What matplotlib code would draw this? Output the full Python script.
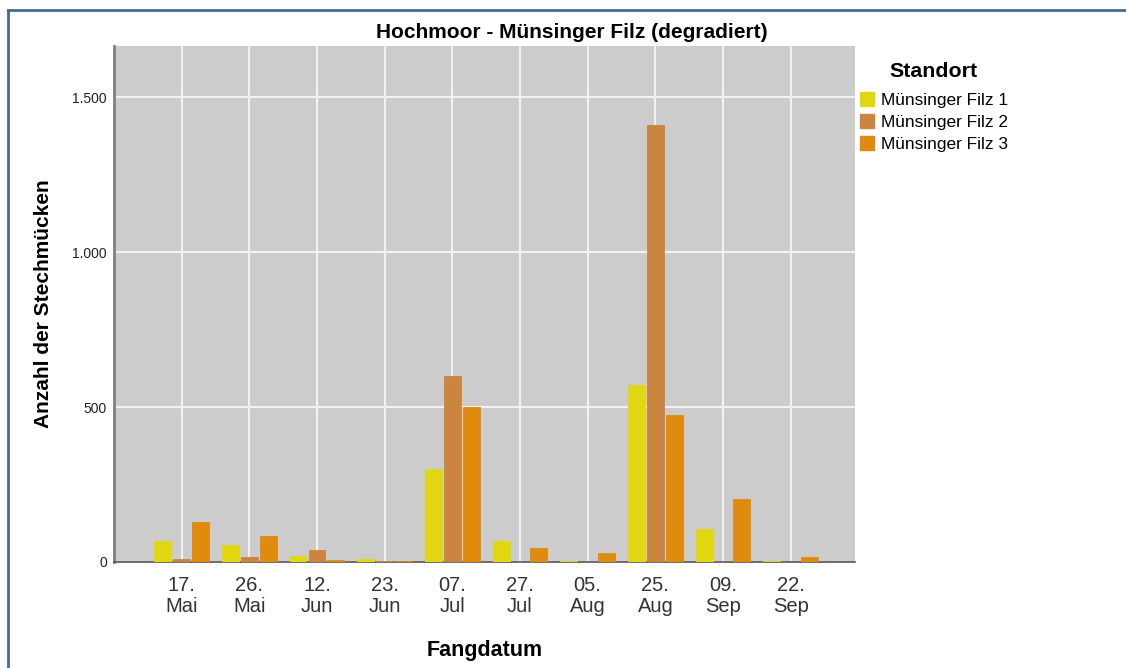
import numpy as np
import matplotlib
matplotlib.use("Agg")
import matplotlib.pyplot as plt
from matplotlib.patches import Patch

plt.rcParams['font.family'] = ['Liberation Sans', 'DejaVu Sans']

# data
dates = ["17.\nMai", "26.\nMai", "12.\nJun", "23.\nJun", "07.\nJul",
         "27.\nJul", "05.\nAug", "25.\nAug", "09.\nSep", "22.\nSep"]
filz1 = [68, 55, 19, 10, 300, 69, 4, 570, 105, 2]
filz2 = [10, 16, 40, 4, 601, 0, 1, 1410, 0, 0]
filz3 = [129, 84, 5, 3, 501, 44, 28, 475, 202, 17]
series = ["Münsinger Filz 1", "Münsinger Filz 2", "Münsinger Filz 3"]
colors = ["#e2d610", "#cc853f", "#e08a0e"]
yticks = [0, 500, 1000, 1500]
ytick_labels = ["0", "500", "1.000", "1.500"]

fig = plt.figure(figsize=(11.26, 6.68), dpi=100)
ax = fig.add_axes([0.1012, 0.1587, 0.6581, 0.7724])

x = np.arange(len(dates))
w = 0.25
for i, (vals, c) in enumerate(zip([filz1, filz2, filz3], colors)):
    ax.bar(x + (i - 1) * 0.28, vals, width=w, color=c, edgecolor=c,
           linewidth=0.6, zorder=3)

ax.set_facecolor("#cccccc")
ax.set_xlim(-1, 9.95)
ax.set_ylim(0, 1665)
ax.set_xticks(x)
ax.set_xticklabels(dates, fontsize=14.5, linespacing=1.12, color="#333333")
ax.set_yticks(yticks)
ax.set_yticklabels(ytick_labels, fontsize=10, color="#222222")
ax.tick_params(length=0, pad=5)
ax.tick_params(axis='x', pad=10)
ax.grid(True, color="#f2f2f2", linewidth=1.5, zorder=1)
ax.set_axisbelow(True)
for s in ["top", "right"]:
    ax.spines[s].set_visible(False)
ax.spines["left"].set_color("#808080")
ax.spines["left"].set_linewidth(2)
ax.spines["bottom"].set_color("#555555")
ax.spines["bottom"].set_linewidth(1.2)

fig.text(0.508, 0.951, "Hochmoor - Münsinger Filz (degradiert)",
         fontsize=15, fontweight="bold", ha="center", va="center")
ax.set_ylabel("Anzahl der Stechmücken", fontsize=15, fontweight="bold")
ax.yaxis.set_label_coords(-0.082, 0.5)
ax.set_xlabel("Fangdatum", fontsize=15.5, fontweight="bold", va="center")
ax.xaxis.set_label_coords(0.5, -0.171)

handles = [Patch(facecolor=c, edgecolor=c) for c in colors]
leg = fig.legend(handles, series, loc="upper left",
                 bbox_to_anchor=(0.7496, 0.93), frameon=False,
                 title="Standort", fontsize=12.4, handlelength=0.85,
                 handleheight=0.85, handletextpad=0.4, labelspacing=0.35)
leg.get_title().set_fontweight("bold")
leg.get_title().set_fontsize(15.4)
leg._legend_box.align = "center"
leg._legend_box.sep = 8

# outer frame (top and left edges only visible)
fig.add_artist(plt.Line2D([0.0071, 1.0], [0.985, 0.985], color="#3e6e8e",
                          linewidth=2, transform=fig.transFigure))
fig.add_artist(plt.Line2D([0.0071, 0.0071], [0.0, 0.985], color="#3e6e8e",
                          linewidth=2, transform=fig.transFigure))

fig.savefig("out.png", dpi=100)
